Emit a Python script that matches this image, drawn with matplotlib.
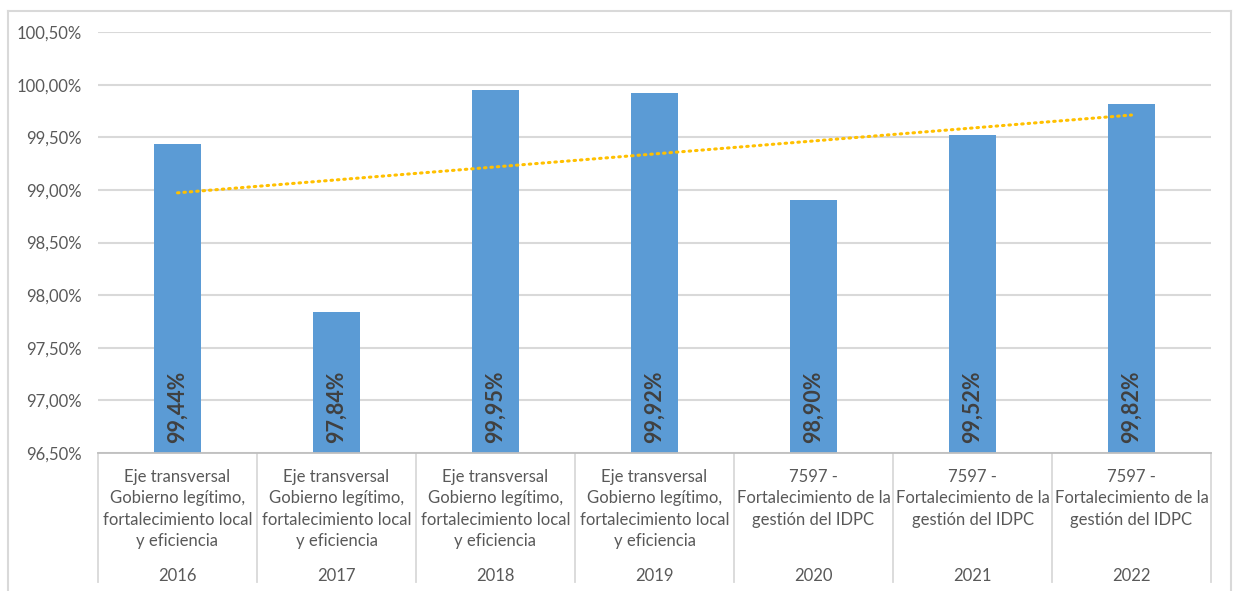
import matplotlib
matplotlib.use("Agg")
import matplotlib.pyplot as plt
import matplotlib.transforms as mtransforms
import numpy as np

plt.rcParams["font.family"] = ["Lato", "DejaVu Sans"]

years = ["2016", "2017", "2018", "2019", "2020", "2021", "2022"]
programs = [
    "Eje transversal\nGobierno legítimo,\nfortalecimiento local\ny eficiencia",
    "Eje transversal\nGobierno legítimo,\nfortalecimiento local\ny eficiencia",
    "Eje transversal\nGobierno legítimo,\nfortalecimiento local\ny eficiencia",
    "Eje transversal\nGobierno legítimo,\nfortalecimiento local\ny eficiencia",
    "7597 -\nFortalecimiento de la\ngestión del IDPC",
    "7597 -\nFortalecimiento de la\ngestión del IDPC",
    "7597 -\nFortalecimiento de la\ngestión del IDPC",
]
execution = [99.44, 97.84, 99.95, 99.92, 98.90, 99.52, 99.82]
y_ticks = [96.5, 97.0, 97.5, 98.0, 98.5, 99.0, 99.5, 100.0, 100.5]

BAR_COLOR = "#5B9BD5"
TREND_COLOR = "#FFC000"
TEXT_GRAY = "#595959"
GRID_GRAY = "#D9D9D9"

W, H = 1237, 591
fig = plt.figure(figsize=(W / 100, H / 100), dpi=100)

# plot area in pixel coordinates
left, right, top, bottom = 98, 1211, 32, 453
ax = fig.add_axes([left / W, 1 - bottom / H, (right - left) / W, (bottom - top) / H])

x = np.arange(len(years))
ax.bar(x, execution, width=0.30, bottom=0, color=BAR_COLOR, zorder=2)

# linear trend across the series
coef = np.polyfit(x + 1, execution, 1)
trend = np.polyval(coef, x + 1)
ax.plot(x, trend, color=TREND_COLOR, lw=2.2, linestyle=(0, (0.5, 1.6)),
        dash_capstyle="round", zorder=3)

ax.set_xlim(-0.5, len(years) - 0.5)
ax.set_ylim(y_ticks[0], y_ticks[-1])
ax.set_yticks(y_ticks)
ax.set_yticklabels([f"{v:.2f}%".replace(".", ",") for v in y_ticks],
                   fontsize=12, color=TEXT_GRAY)
ax.tick_params(axis="y", length=0, pad=11.5)
ax.set_xticks([])
ax.grid(axis="y", color=GRID_GRAY, lw=1.5, zorder=0)
ax.set_axisbelow(True)
for side in ["left", "right", "top"]:
    ax.spines[side].set_visible(False)
ax.spines["bottom"].set_color("#BFBFBF")
ax.spines["bottom"].set_linewidth(1.3)

# value labels inside the base of each bar
for xi, v in zip(x, execution):
    ax.annotate(f"{v:.2f}%".replace(".", ","), xy=(xi, y_ticks[0]),
                xytext=(0, 7), textcoords="offset points",
                rotation=90, ha="center", va="bottom",
                fontsize=15.5, fontweight="bold", color="#404040", zorder=4)

# two-level category axis below the plot
trans = mtransforms.blended_transform_factory(ax.transData, fig.transFigure)
for xi, prog, yr in zip(x, programs, years):
    ax.text(xi, 1 - 469 / H, prog, transform=trans, ha="center", va="top",
            fontsize=12, color=TEXT_GRAY, linespacing=1.42, clip_on=False)
    ax.text(xi, 1 - 576 / H, yr, transform=trans, ha="center", va="center",
            fontsize=12, color=TEXT_GRAY, clip_on=False)
for b in np.arange(len(years) + 1) - 0.5:
    ax.plot([b, b], [1 - bottom / H, 1 - 582 / H], transform=trans,
            color=GRID_GRAY, lw=1.3, clip_on=False)

# chart area border
border = dict(color="#D9D9D9", lw=1.5, transform=fig.transFigure)
fig.add_artist(plt.Line2D([8 / W, 8 / W], [0, 1 - 11 / H], **border))
fig.add_artist(plt.Line2D([8 / W, 1231 / W], [1 - 11 / H, 1 - 11 / H], **border))
fig.add_artist(plt.Line2D([1231 / W, 1231 / W], [0, 1 - 11 / H], **border))

fig.savefig("out.png", dpi=100)
plt.close(fig)
